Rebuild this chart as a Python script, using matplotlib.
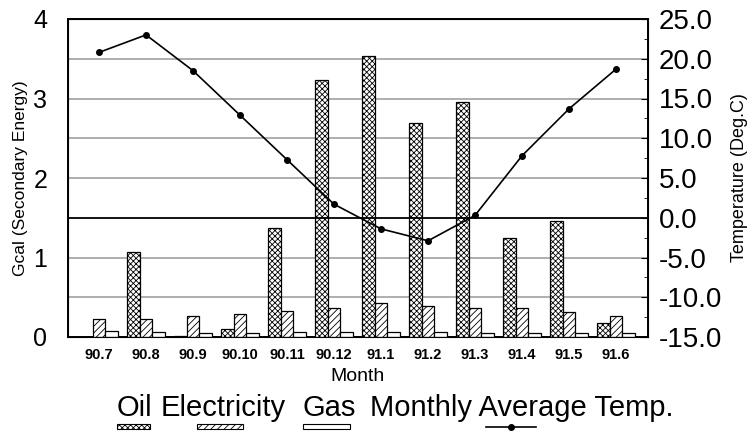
import matplotlib.pyplot as plt
import matplotlib.patches as patches
from matplotlib.lines import Line2D
from matplotlib.ticker import MultipleLocator, FormatStrFormatter
import numpy as np

plt.rcParams['font.family'] = ['Liberation Sans', 'DejaVu Sans']
plt.rcParams['hatch.linewidth'] = 0.6

months = ['90.7', '90.8', '90.9', '90.10', '90.11', '90.12',
          '91.1', '91.2', '91.3', '91.4', '91.5', '91.6']
oil = [0.0, 1.07, 0.01, 0.10, 1.37, 3.23, 3.53, 2.69, 2.95, 1.24, 1.46, 0.17]
electricity = [0.23, 0.23, 0.26, 0.29, 0.33, 0.37, 0.43, 0.39, 0.37, 0.37, 0.32, 0.26]
gas = [0.07, 0.06, 0.05, 0.05, 0.06, 0.06, 0.06, 0.06, 0.05, 0.05, 0.05, 0.05]
temp = [20.8, 23.0, 18.5, 12.9, 7.3, 1.7, -1.4, -2.9, 0.3, 7.8, 13.7, 18.7]


def draw_bars(ax, x, w):
    ax.bar(x - w, oil, w, facecolor='white', edgecolor='black',
           hatch='xxxxxx', linewidth=0.9, zorder=3)
    ax.bar(x, electricity, w, facecolor='white', edgecolor='black',
           hatch='/////', linewidth=0.9, zorder=3)
    ax.bar(x + w, gas, w, facecolor='white', edgecolor='black',
           linewidth=0.9, zorder=3)


def draw_legend(fig):
    W, H = fig.get_size_inches() * fig.dpi
    ty = 1 - 408 / H
    fs = 21
    fig.text(117 / W, ty, 'Oil', fontsize=fs, va='center')
    fig.text(161 / W, ty, 'Electricity', fontsize=fs, va='center')
    fig.text(303 / W, ty, 'Gas', fontsize=fs, va='center')
    fig.text(522 / W, ty, 'Monthly Average Temp.', fontsize=fs, va='center', ha='center')
    sy = 1 - 429 / H
    sh = 5 / H
    for x0, x1, hatch in [(117, 150, 'xxxxxx'), (197, 243, '/////'), (303, 350, '')]:
        fig.patches.append(patches.Rectangle((x0 / W, sy), (x1 - x0) / W, sh,
                                             transform=fig.transFigure,
                                             facecolor='white', edgecolor='black',
                                             hatch=hatch, linewidth=0.8))
    fig.lines.append(Line2D([486 / W, 536 / W], [sy + sh / 2, sy + sh / 2],
                            transform=fig.transFigure, color='black', lw=1.2))
    fig.lines.append(Line2D([511 / W], [sy + sh / 2], transform=fig.transFigure,
                            color='black', marker='o', markersize=4))


def main():
    fig = plt.figure(figsize=(7.53, 4.34), dpi=100)
    ax = fig.add_axes([68 / 753, 1 - 337 / 434, 580 / 753, 318 / 434])
    x = np.arange(len(months))
    w = 0.27
    draw_bars(ax, x, w)

    ax.set_xlim(-0.66, len(months) - 1 + 0.68)
    ax.set_ylim(0, 4)
    ax.set_yticks([0, 1, 2, 3, 4])
    ax.tick_params(axis='y', length=0, labelsize=18, pad=15)
    for g in np.arange(0.5, 4, 0.5):
        if g != 1.5:
            ax.axhline(g, color='0.6', lw=1.1, zorder=1)
    ax.set_xticks(x)
    ax.set_xticklabels(months, fontsize=10.5, fontweight='bold')
    ax.tick_params(axis='x', length=0, pad=8)
    ax.set_xlabel('Month', fontsize=14, labelpad=4)
    ax.set_ylabel('Gcal (Secondary Energy)', fontsize=12.5, labelpad=4)
    for s in ax.spines.values():
        s.set_linewidth(1.4)

    ax2 = ax.twinx()
    ax2.plot(x, temp, color='black', lw=1.2, marker='o', markersize=4, zorder=5)
    ax2.axhline(0, color='black', lw=1.3, zorder=4)
    ax2.set_ylim(-15, 25)
    ax2.yaxis.set_major_locator(MultipleLocator(5))
    ax2.yaxis.set_minor_locator(MultipleLocator(2.5))
    ax2.yaxis.set_major_formatter(FormatStrFormatter('%.1f'))
    ax2.tick_params(axis='y', which='major', direction='in', length=5, labelsize=20, pad=8)
    ax2.tick_params(axis='y', which='minor', direction='in', length=3)
    ax2.set_ylabel('Temperature (Deg.C)', fontsize=13, labelpad=6)

    draw_legend(fig)
    fig.savefig('out.png', dpi=100)


if __name__ == "__main__":
    main()
